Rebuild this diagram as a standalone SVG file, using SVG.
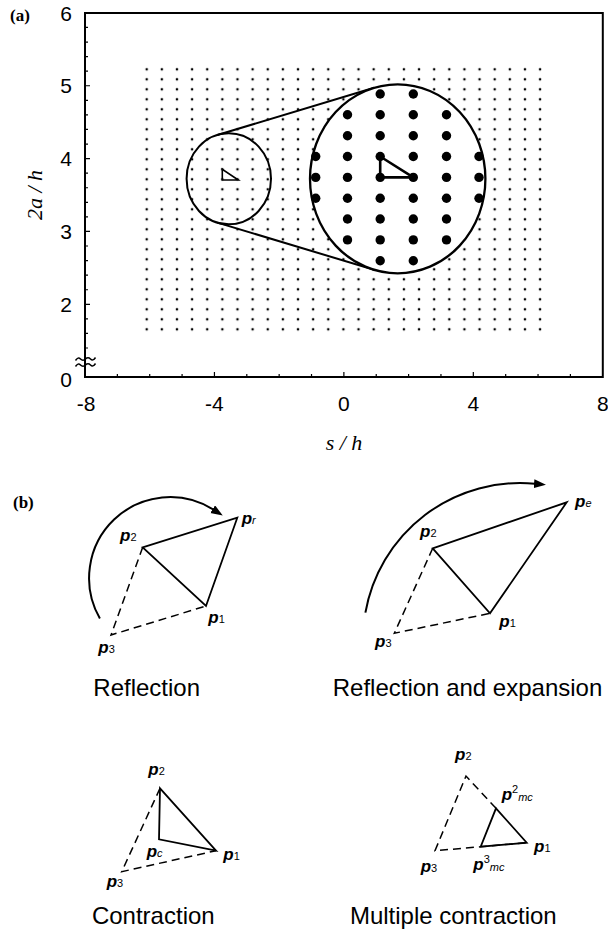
<svg xmlns="http://www.w3.org/2000/svg" width="608" height="931" viewBox="0 0 608 931">
<defs>
<style>
.ax{stroke:#000;stroke-width:2;fill:none}
.tk{stroke:#000;stroke-width:1.2;fill:none}
.num{font-family:"Liberation Sans",Arial,sans-serif;font-size:21px;fill:#000}
.it{font-family:"Liberation Serif","Times New Roman",serif;font-style:italic;font-size:22px;fill:#000}
.pl{font-family:"Liberation Serif","Times New Roman",serif;font-weight:bold;font-size:17px;fill:#000}
.ln{stroke:#000;stroke-width:2;fill:none}
.bd{fill:#000}
.so{stroke:#000;stroke-width:1.8;fill:none;stroke-linejoin:miter}
.da{stroke:#000;stroke-width:1.5;fill:none;stroke-dasharray:8 5}
.arc{stroke:#000;stroke-width:2;fill:none}
.p{font-family:"Liberation Sans",Arial,sans-serif;font-weight:bold;font-style:italic;font-size:17px;fill:#000}
.sb{font-weight:normal;font-style:normal;font-size:11px}
.si{font-weight:normal;font-style:italic;font-size:11px}
.cap{font-family:"Liberation Sans",Arial,sans-serif;font-size:24px;fill:#000;text-anchor:middle}
</style>
<pattern id="grid" x="139.135" y="64.3" width="15.13" height="10" patternUnits="userSpaceOnUse">
<circle cx="7.565" cy="5" r="1.3" fill="#000"/>
</pattern>
<marker id="ah" markerWidth="12" markerHeight="10" refX="1" refY="4.5" orient="auto" markerUnits="userSpaceOnUse">
<path d="M0,0 L12,4.5 L0,9 Z" fill="#000"/>
</marker>
</defs>
<rect width="608" height="931" fill="#fff"/>

<g id="panel-a">
<text class="pl" x="10" y="20.5">(a)</text>
<rect x="139.135" y="64.3" width="408.51" height="270" fill="url(#grid)"/>
<g id="zoom-lines">
<path class="ln" d="M217.4,135 L374.1,87.8 M217.4,222.6 L374.1,269.8"/>
</g>
<g id="small-circle">
<ellipse class="ln" cx="228.8" cy="178.8" rx="42.2" ry="45.5"/>
<path d="M222.3,169.3 L222.3,180 L238.3,180 Z" stroke="#000" stroke-width="1.6" fill="none"/>
</g>
<g id="big-circle">
<ellipse cx="397.7" cy="178.8" rx="87.7" ry="94.5" fill="#fff" stroke="#000" stroke-width="2.3"/>
<g class="bd">
<circle cx="380.2" cy="94" r="4.7"/><circle cx="413.3" cy="94" r="4.7"/>
<circle cx="347.5" cy="114.8" r="4.7"/><circle cx="380.2" cy="114.8" r="4.7"/><circle cx="413.3" cy="114.8" r="4.7"/><circle cx="446.5" cy="114.8" r="4.7"/>
<circle cx="347.5" cy="135.7" r="4.7"/><circle cx="380.2" cy="135.7" r="4.7"/><circle cx="413.3" cy="135.7" r="4.7"/><circle cx="446.5" cy="135.7" r="4.7"/>
<circle cx="315.7" cy="156.5" r="4.7"/><circle cx="347.5" cy="156.5" r="4.7"/><circle cx="380.2" cy="156.5" r="4.7"/><circle cx="413.3" cy="156.5" r="4.7"/><circle cx="446.5" cy="156.5" r="4.7"/><circle cx="479" cy="156.5" r="4.7"/>
<circle cx="315.7" cy="177.4" r="4.7"/><circle cx="347.5" cy="177.4" r="4.7"/><circle cx="380.2" cy="177.4" r="4.7"/><circle cx="413.3" cy="177.4" r="4.7"/><circle cx="446.5" cy="177.4" r="4.7"/><circle cx="479" cy="177.4" r="4.7"/>
<circle cx="315.7" cy="198.2" r="4.7"/><circle cx="347.5" cy="198.2" r="4.7"/><circle cx="380.2" cy="198.2" r="4.7"/><circle cx="413.3" cy="198.2" r="4.7"/><circle cx="446.5" cy="198.2" r="4.7"/><circle cx="479" cy="198.2" r="4.7"/>
<circle cx="347.5" cy="219" r="4.7"/><circle cx="380.2" cy="219" r="4.7"/><circle cx="413.3" cy="219" r="4.7"/><circle cx="446.5" cy="219" r="4.7"/>
<circle cx="347.5" cy="239.9" r="4.7"/><circle cx="380.2" cy="239.9" r="4.7"/><circle cx="413.3" cy="239.9" r="4.7"/><circle cx="446.5" cy="239.9" r="4.7"/>
<circle cx="380.2" cy="260.7" r="4.7"/><circle cx="413.3" cy="260.7" r="4.7"/>
</g>
<path d="M380.2,156.5 L380.2,177.4 L413.3,177.4 Z" stroke="#000" stroke-width="2.6" fill="none" stroke-linejoin="round"/>
</g>
<g id="axes">
<rect class="ax" x="85" y="13" width="517.8" height="364"/>
<path class="tk" d="M85,27.47h3M85,42.04h3M85,56.61h3M85,71.18h3M85,85.75h5M85,100.32h3M85,114.89h3M85,129.46h3M85,144.03h3M85,158.6h5M85,173.17h3M85,187.74h3M85,202.31h3M85,216.88h3M85,231.45h5M85,246.02h3M85,260.59h3M85,275.16h3M85,289.73h3M85,304.3h5M85,318.87h3M85,333.44h3M85,348.01h3"/>
<path class="tk" d="M117.36,377v-3M149.72,377v-3M182.08,377v-3M214.44,377v-5M246.8,377v-3M279.16,377v-3M311.52,377v-3M343.88,377v-5M376.24,377v-3M408.6,377v-3M440.96,377v-3M473.32,377v-5M505.68,377v-3M538.04,377v-3M570.4,377v-3"/>
<path d="M75.5,360.5 q2.5,-4 5,-1.5 t5,0 t5,0 t5,-1.5 M75.5,366.5 q2.5,-4 5,-1.5 t5,0 t5,0 t5,-1.5" stroke="#000" stroke-width="1.5" fill="none"/>
<g class="num" text-anchor="end">
<text x="72" y="20.5">6</text>
<text x="72" y="93.3">5</text>
<text x="72" y="166.1">4</text>
<text x="72" y="239">3</text>
<text x="72" y="311.8">2</text>
<text x="72" y="386.5">0</text>
</g>
<g class="num" text-anchor="middle">
<text x="86" y="410.5">-8</text>
<text x="214.4" y="410.5">-4</text>
<text x="343.9" y="410.5">0</text>
<text x="473.3" y="410.5">4</text>
<text x="602.8" y="410.5">8</text>
</g>
<text class="it" x="344" y="450" text-anchor="middle">s / h</text>
<text class="it" transform="translate(42,195) rotate(-90)" text-anchor="middle">2a / h</text>
</g>
</g>

<g id="panel-b">
<text class="pl" x="13" y="507.5">(b)</text>

<g id="reflection">
<path class="arc" d="M99.9,618.5 A81,81 0 0 1 213.5,509.7" marker-end="url(#ah)"/>
<path class="da" d="M142.7,547.3 L111,635 L206,606"/>
<path class="so" d="M142.7,547.3 L237.3,517.7 L206,606 Z"/>
<text class="p" x="120" y="541">p<tspan class="sb">2</tspan></text>
<text class="p" x="241.7" y="523.5">p<tspan class="si">r</tspan></text>
<text class="p" x="208.3" y="623">p<tspan class="sb">1</tspan></text>
<text class="p" x="98.3" y="653">p<tspan class="sb">3</tspan></text>
<text class="cap" x="146.7" y="696">Reflection</text>
</g>

<g id="expansion">
<path class="arc" d="M365.4,612.7 A157,157 0 0 1 535,483.7" marker-end="url(#ah)"/>
<path class="da" d="M432.7,548.3 L394.3,633.3 L490,613.3"/>
<path class="so" d="M432.7,548.3 L566.7,502.3 L490,613.3 Z"/>
<text class="p" x="420" y="537">p<tspan class="sb">2</tspan></text>
<text class="p" x="575" y="507">p<tspan class="si">e</tspan></text>
<text class="p" x="499.3" y="627">p<tspan class="sb">1</tspan></text>
<text class="p" x="375" y="647">p<tspan class="sb">3</tspan></text>
<text class="cap" x="467.5" y="696">Reflection and expansion</text>
</g>

<g id="contraction">
<path class="da" d="M160,788.3 L121.7,871.7 L216,850.7"/>
<path class="so" d="M159,839.3 L160,788.3 L216,850.7 Z"/>
<text class="p" x="148.3" y="775">p<tspan class="sb">2</tspan></text>
<text class="p" x="146.7" y="857">p<tspan class="si">c</tspan></text>
<text class="p" x="223.3" y="860">p<tspan class="sb">1</tspan></text>
<text class="p" x="106.7" y="887">p<tspan class="sb">3</tspan></text>
<text class="cap" x="153.3" y="924">Contraction</text>
</g>

<g id="multiple-contraction">
<path class="da" d="M496,808.3 L466,776 L435,850.7 L526.7,842.7"/>
<path class="so" d="M496,808.3 L526.7,842.7 L480.7,846.7 Z"/>
<text class="p" x="455" y="760">p<tspan class="sb">2</tspan></text>
<text class="p" x="501.7" y="800">p<tspan class="sb" dy="-7">2</tspan><tspan class="si" dy="8">mc</tspan></text>
<text class="p" x="534" y="852">p<tspan class="sb">1</tspan></text>
<text class="p" x="420.7" y="872">p<tspan class="sb">3</tspan></text>
<text class="p" x="473.3" y="870">p<tspan class="sb" dy="-7">3</tspan><tspan class="si" dy="8">mc</tspan></text>
<text class="cap" x="453.3" y="924">Multiple contraction</text>
</g>
</g>
</svg>
